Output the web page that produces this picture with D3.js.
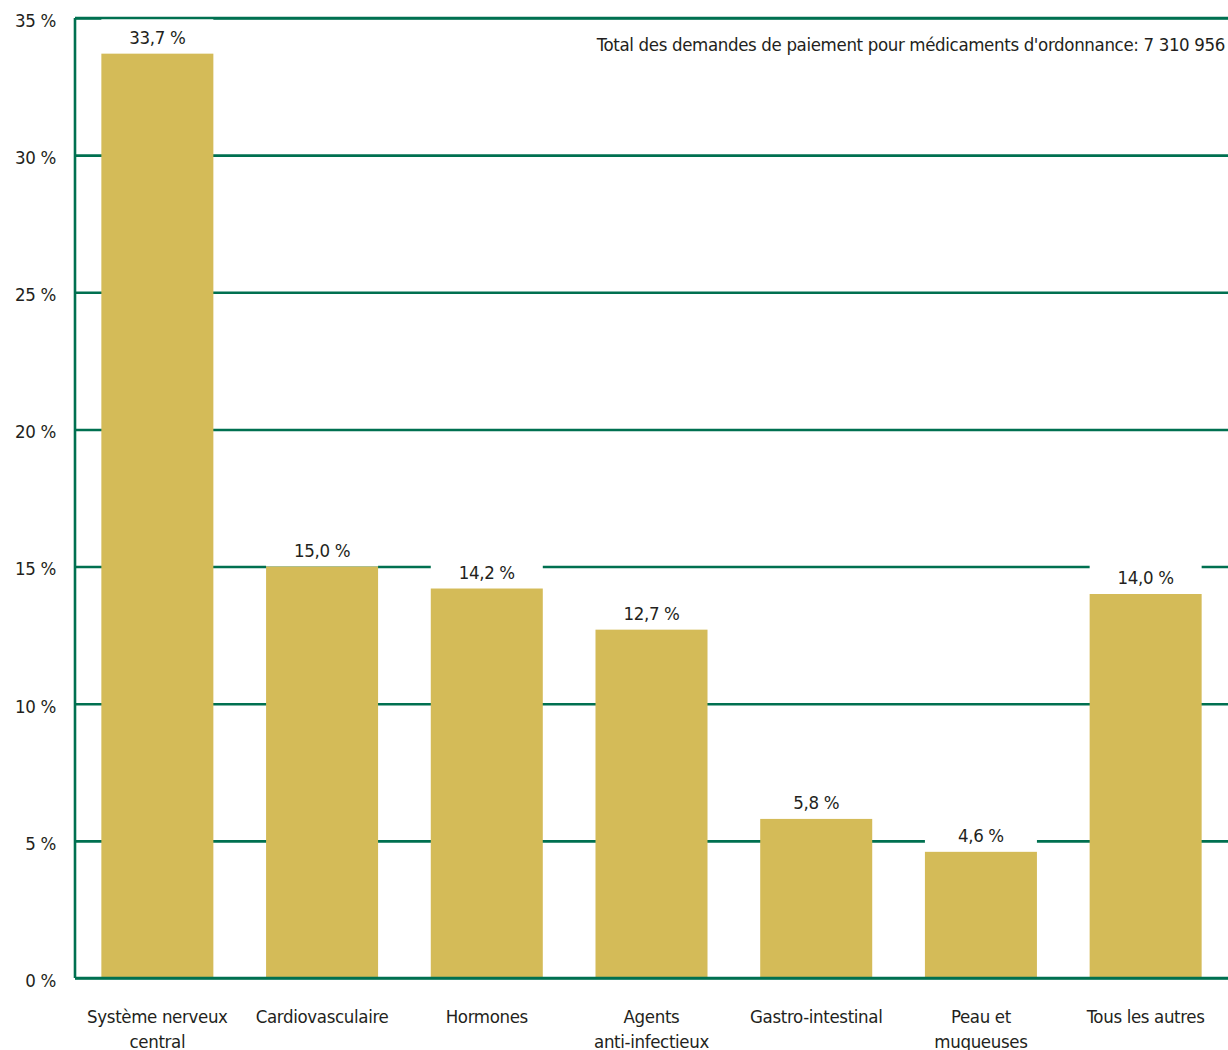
<!DOCTYPE html>
<html>
<head>
<meta charset="utf-8">
<script src="https://cdn.jsdelivr.net/npm/d3@7"></script>
<style>
  html, body { margin: 0; padding: 0; background: #fff; }
  svg text { font-family: "Liberation Sans Narrow", "DejaVu Sans Condensed", sans-serif; fill: #231f20; letter-spacing: -0.35px; }
</style>
</head>
<body>
<svg id="chart" width="1228" height="1050"></svg>
<script>
// Drug classes (two-line labels split on "\n")
const categories = [
  "Système nerveux\ncentral",
  "Cardiovasculaire",
  "Hormones",
  "Agents\nanti-infectieux",
  "Gastro-intestinal",
  "Peau et\nmuqueuses",
  "Tous les autres"
];
// Share of prescription drug payment requests (%)
const shares = [33.7, 15.0, 14.2, 12.7, 5.8, 4.6, 14.0];
const yTicks = [0, 5, 10, 15, 20, 25, 30, 35];
const totalNote = "Total des demandes de paiement pour médicaments d'ordonnance: 7 310 956";

const green = "#007050";
const gold = "#d4bb58";
const fontSize = 18.5;

const svg = d3.select("#chart");
const margin = { left: 75, right: 0, top: 18, bottom: 72 };
const W = 1228, H = 1050;
const innerW = W - margin.left - margin.right;
const innerH = H - margin.top - margin.bottom;

const x = d3.scaleBand()
  .domain(categories)
  .range([0, innerW])
  .paddingInner(0.32)
  .paddingOuter(0.16);

const y = d3.scaleLinear().domain([0, 35]).range([innerH, 0]);

const g = svg.append("g").attr("transform", `translate(${margin.left},${margin.top})`);

// Horizontal gridlines and y tick labels
const yAxis = g.append("g")
  .call(d3.axisLeft(y)
    .tickValues(yTicks)
    .tickSize(-innerW)
    .tickPadding(19)
    .tickFormat(d => d + " %"));
yAxis.select(".domain").remove();
yAxis.selectAll(".tick line")
  .attr("stroke", green)
  .attr("stroke-width", 2.6);
yAxis.selectAll(".tick text")
  .attr("font-size", fontSize)
  .attr("dy", "0.45em")
  .style("font-family", "\"Liberation Sans Narrow\", \"DejaVu Sans Condensed\", sans-serif")
  .attr("fill", "#231f20");

// White panels behind value labels hide the gridlines there
g.append("g").selectAll("rect")
  .data(shares)
  .join("rect")
  .attr("x", (d, i) => x(categories[i]))
  .attr("width", x.bandwidth())
  .attr("y", d => y(d) - 37)
  .attr("height", 37)
  .attr("fill", "#fff");

// Bars
g.append("g").selectAll("rect")
  .data(shares)
  .join("rect")
  .attr("x", (d, i) => x(categories[i]))
  .attr("width", x.bandwidth())
  .attr("y", d => y(d))
  .attr("height", d => innerH - y(d))
  .attr("fill", gold);

// Value labels
g.append("g").selectAll("text")
  .data(shares)
  .join("text")
  .attr("x", (d, i) => x(categories[i]) + x.bandwidth() / 2)
  .attr("y", d => y(d) - 10)
  .attr("text-anchor", "middle")
  .attr("font-size", fontSize)
  .text(d => d.toFixed(1).replace(".", ",") + " %");

// Frame: left, top and bottom lines
g.append("line").attr("x1", 0).attr("x2", 0).attr("y1", 0).attr("y2", innerH)
  .attr("stroke", green).attr("stroke-width", 2.6);
g.append("line").attr("x1", 0).attr("x2", innerW).attr("y1", y(35)).attr("y2", y(35))
  .attr("stroke", green).attr("stroke-width", 2.6);
g.append("line").attr("x1", 0).attr("x2", innerW).attr("y1", y(0)).attr("y2", y(0))
  .attr("stroke", green).attr("stroke-width", 2.6);

// Category labels below the axis
const catLabels = g.append("g").selectAll("text")
  .data(categories)
  .join("text")
  .attr("x", d => x(d) + x.bandwidth() / 2)
  .attr("y", innerH + 45)
  .attr("text-anchor", "middle")
  .attr("font-size", fontSize);
catLabels.each(function(d) {
  const t = d3.select(this);
  d.split("\n").forEach((line, i) => {
    t.append("tspan")
      .attr("x", x(d) + x.bandwidth() / 2)
      .attr("dy", i === 0 ? 0 : 25)
      .text(line);
  });
});

// Total note, top right
g.append("text")
  .attr("x", innerW - 3)
  .attr("y", 33)
  .attr("text-anchor", "end")
  .attr("font-size", fontSize)
  .text(totalNote);
</script>
</body>
</html>
